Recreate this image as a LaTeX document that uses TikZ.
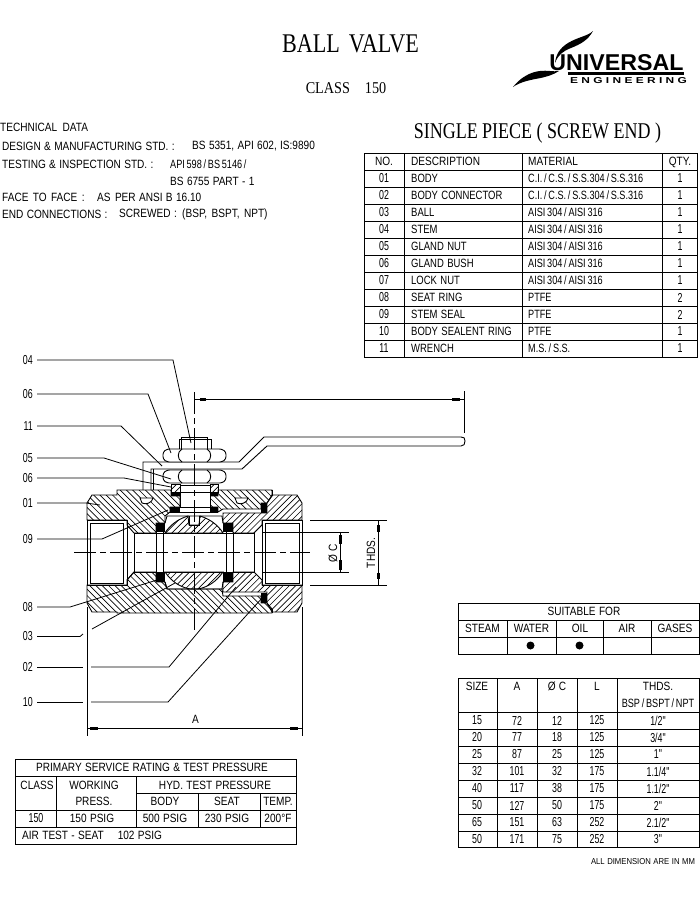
\documentclass[tikz,border=0pt]{standalone}
\usepackage{fontspec}
\usepackage{graphicx}
\setmainfont[FakeStretch=0.84,WordSpace=1.2]{Liberation Sans}
\newfontfamily\tbf[FakeStretch=0.79,WordSpace=1.3]{Liberation Sans}
\newfontfamily\mtf[FakeStretch=0.76,WordSpace=0.7]{Liberation Sans}
\newfontfamily\dgf[FakeStretch=0.68,WordSpace=1.6]{Liberation Sans}
\newfontfamily\serf[FakeStretch=0.82]{Liberation Serif}
\newfontfamily\serg[FakeStretch=0.86,WordSpace=2]{Liberation Serif}
\newfontfamily\serh[FakeStretch=0.8,WordSpace=1]{Liberation Serif}
\newfontfamily\logoa{Liberation Sans}
\newfontfamily\logob[LetterSpace=28]{Liberation Sans}
\newcommand{\hatchdown}[1]{\begin{scope}\clip #1;
  \foreach \k in {-60,-53.7,...,310} {\draw[hatchl] (\k,480) -- ++(150,150);}\end{scope}\draw[part] #1;}
\newcommand{\hatchup}[1]{\begin{scope}\clip #1;
  \foreach \k in {80,86.3,...,460} {\draw[hatchl] (\k,480) -- ++(-150,150);}\end{scope}\draw[part] #1;}
\newcommand{\nutshape}[2]{%
  \draw[part,fill=white,rounded corners=2.5pt] (167,#1) -- (163,#1+3) -- (163,#2-3) -- (167,#2) -- (222,#2) -- (226,#2-3) -- (226,#1+3) -- (222,#1) -- cycle;
  \draw[part] (182,#1) .. controls (177,#1+3) and (177,#2-3) .. (182,#2);
  \draw[part] (207,#1) .. controls (212,#1+3) and (212,#2-3) .. (207,#2);
}
\tikzset{
  every node/.style={inner sep=0pt,font=\fontsize{12}{14}\selectfont},
  dig/.style={font=\fontsize{13}{15}\dgf},
  desc/.style={anchor=west,font=\fontsize{12}{14}\tbf},
  matl/.style={anchor=west,font=\fontsize{12}{14}\mtf},
  part/.style={line width=0.9pt},
  hatchl/.style={line width=0.65pt},
  grid/.style={line width=1pt},
  leader/.style={line width=0.8pt},
  dimline/.style={line width=0.9pt},
  blob/.style={line width=3pt},
  centre/.style={line width=0.8pt,dash pattern=on 22pt off 4pt on 6pt off 4pt},
  lab/.style={anchor=east,inner xsep=4pt,font=\fontsize{13}{15}\dgf},
  lft/.style={anchor=west},
}
\begin{document}
\begin{tikzpicture}[x=1pt,y=-1pt]
\useasboundingbox (0,0) rectangle (700,900);
% ---- titles
\node[font=\fontsize{27}{30}\serf] (title) at (350.5,44) {BALL\hspace{9pt}VALVE};
\node[font=\fontsize{16.5}{18}\serg] (cls) at (346,88) {CLASS\hspace{15pt}150};
\node[font=\fontsize{22.5}{24}\serh] (single) at (537.5,133) {SINGLE PIECE ( SCREW END )};
% ---- logo
\fill (593,31) .. controls (588,36) and (578,37) .. (568,43) .. controls (560,48) and (556,54) .. (555,63) .. controls (558,55) and (563,51) .. (571,48) .. controls (581,44) and (588,40) .. (593,31) -- cycle;
\fill (513,87) .. controls (520,78) and (530,72) .. (540,71) .. controls (547,70) and (553,72) .. (559,71) .. controls (553,75) and (546,77) .. (538,78.5) .. controls (530,80) and (520,82) .. (513,87) -- cycle;
\node (logou) at (616.5,63) {\resizebox{134pt}{16pt}{\logoa\bfseries UNIVERSAL}};
\fill (568,72) rectangle (684,74.5);
\node (logoe) at (628.5,80.5) {\resizebox{117pt}{6pt}{\logob\bfseries ENGINEERING}};
% ---- technical data
\node[lft] (td0) at (0,127.5) {TECHNICAL\hspace{2pt} DATA};
\node[lft] (td1) at (2,146) {DESIGN \& MANUFACTURING STD. :};
\node[lft] (td1b) at (192,146) {BS 5351, API 602, IS:9890};
\node[lft] (td2) at (2,164) {TESTING \& INSPECTION STD. :};
\node[matl] (td2b) at (170,164) {API 598 / BS 5146 /};
\node[lft] (td3) at (170,181) {BS 6755 PART - 1};
\node[lft] (td4) at (2,197.5) {FACE\hspace{1pt} TO\hspace{1pt} FACE\hspace{1pt} :};
\node[lft] (td4b) at (97,197.5) {AS\hspace{1pt} PER ANSI B 16.10};
\node[lft] (td5) at (2,214) {END CONNECTIONS :};
\node[lft] (td5b) at (119,214) {SCREWED :\hspace{2pt} (BSP,\hspace{1pt} BSPT,\hspace{1pt} NPT)};
% ---- parts table
\draw[grid] (364,153) rectangle (697,357);
\foreach \y in {170,187,204,221,238,255,272,289,306,323,340} \draw[grid] (364,\y) -- (697,\y);
\foreach \x in {404,522,662} \draw[grid] (\x,153) -- (\x,357);
\node (phn) at (384,161.5) {NO.};
\node[lft] (phd) at (411,161.5) {DESCRIPTION};
\node[lft] (phm) at (528,161) {MATERIAL};
\node (phq) at (680,162) {QTY.};
\foreach \i/\n/\d/\m/\q in {
 1/01/BODY/{C.I. / C.S. / S.S.304 / S.S.316}/1,
 2/02/BODY CONNECTOR/{C.I. / C.S. / S.S.304 / S.S.316}/1,
 3/03/BALL/{AISI 304 / AISI 316}/1,
 4/04/STEM/{AISI 304 / AISI 316}/1,
 5/05/GLAND NUT/{AISI 304 / AISI 316}/1,
 6/06/GLAND BUSH/{AISI 304 / AISI 316}/1,
 7/07/LOCK NUT/{AISI 304 / AISI 316}/1,
 8/08/SEAT RING/PTFE/2,
 9/09/STEM SEAL/PTFE/2,
 10/10/BODY SEALENT RING/PTFE/1,
 11/11/WRENCH/{M.S. / S.S.}/1}{
  \pgfmathsetmacro{\yy}{161.5+17*\i}
  \node[dig,name=pn\i] at (384,\yy) {\n};
  \node[desc,name=pd\i] at (411,\yy) {\d};
  \node[matl,name=pm\i] at (528,\yy-0.5) {\m};
  \node[dig,name=pq\i] at (680,\yy) {\q};
}
% ---- suitable table
\draw[grid] (458,603) rectangle (699,654);
\draw[grid] (458,620) -- (699,620) (458,637) -- (699,637);
\foreach \x in {507,556.5,603,651} \draw[grid] (\x,620) -- (\x,654);
\node (sf) at (584,611.5) {SUITABLE FOR};
\node (s1) at (482.5,628.5) {STEAM};
\node (s2) at (531.5,628.5) {WATER};
\node (s3) at (580,628.5) {OIL};
\node (s4) at (627,628.5) {AIR};
\node (s5) at (675,628.5) {GASES};
\fill (530.5,645.5) circle (4);
\fill (579.5,645.5) circle (4);
% ---- size table
\draw[grid] (458,678) rectangle (699,847);
\foreach \y in {712,729,746,763,780,797,814,831} \draw[grid] (458,\y) -- (699,\y);
\foreach \x in {497,537,577,617} \draw[grid] (\x,678) -- (\x,847);
\node (z1) at (477,686.5) {SIZE};
\node (z2) at (517,686.5) {A};
\node (z3) at (557,686.5) {Ø C};
\node (z4) at (597,686.5) {L};
\node (z5) at (658,686.5) {THDS.};
\node[font=\fontsize{12}{14}\mtf] (z6) at (658,703) {BSP / BSPT / NPT};
\foreach \i/\a/\b/\c/\d/\e in {
 1/15/72/12/125/{1/2"},2/20/77/18/125/{3/4"},3/25/87/25/125/{1"},4/32/101/32/175/{1.1/4"},
 5/40/117/38/175/{1.1/2"},6/50/127/50/175/{2"},7/65/151/63/252/{2.1/2"},8/50/171/75/252/{3"}}{
  \pgfmathsetmacro{\yy}{703.5+17*\i}
  \node[dig,name=za\i] at (477,\yy) {\a};
  \node[dig,name=zb\i] at (517,\yy) {\b};
  \node[dig,name=zc\i] at (557,\yy) {\c};
  \node[dig,name=zd\i] at (597,\yy) {\d};
  \node[dig,name=ze\i] at (658,\yy) {\e};
}
\node (note) at (643,861.5) {\resizebox{104pt}{6pt}{ALL DIMENSION ARE IN MM}};
% ---- pressure table
\draw[grid] (15,759) rectangle (296,844);
\draw[grid] (15,776) -- (296,776) (136,793) -- (296,793) (15,810) -- (296,810) (15,827) -- (296,827);
\draw[grid] (56,776) -- (56,827) (136,776) -- (136,827) (198,793) -- (198,827) (260,793) -- (260,827);
\node (r0) at (152,767.5) {PRIMARY SERVICE RATING \& TEST PRESSURE};
\node (r1) at (37,785) {CLASS};
\node (r2) at (94,785) {WORKING};
\node (r3) at (94,801) {PRESS.};
\node (r4) at (215,785) {HYD. TEST PRESSURE};
\node (r5) at (165,801) {BODY};
\node (r6) at (227,801) {SEAT};
\node (r7) at (278,801) {TEMP.};
\node[dig] (r8) at (36,818) {150};
\node (r9) at (92,818) {150 PSIG};
\node (r10) at (165,818) {500 PSIG};
\node (r11) at (227,818) {230 PSIG};
\node (r12) at (278,818) {200°F};
\node[lft] (r13) at (22,835) {AIR TEST - SEAT\hspace{14pt}102 PSIG};
% ---- valve: wrench
\draw[part] (143,490) -- (143,462) -- (239,462) -- (264,437) -- (461,437) .. controls (464,437) and (465,438) .. (465,441) .. controls (465,444) and (464,446) .. (461,446) -- (267,446) -- (242,469) -- (151,469) -- (151,490);
\draw[part] (153,469) -- (153,490);
% nuts and stem top
\nutshape{449}{462}
\nutshape{470}{483}
\draw[part] (179,449) -- (179,439) -- (211,439) -- (211,449);
\draw[part] (181,449) -- (181,437) -- (207,437) -- (207,449);
% body hatch
\hatchdown{(87,503) -- (92,495) -- (117,495) -- (117,490) -- (171,490) -- (171,496) -- (180,496) -- (180,507) -- (170,507) -- (170,512) -- (165,516) -- (165,523) -- (156,523) -- (156,533) -- (134,533) -- (127,525) -- (127,520) -- (87,520) -- cycle}
\hatchdown{(218,490) -- (272,490) -- (272,496) -- (267,503) -- (261,503) -- (261,509) -- (223,509) -- (218,512) -- (218,507) -- (210,507) -- (210,496) -- (218,496) -- cycle}
\hatchup{(223,513) -- (267,513) -- (267,503) -- (272,495) -- (297,495) -- (302,503) -- (302,520) -- (262,520) -- (262,525) -- (254,533) -- (233,533) -- (233,523) -- (223,523) -- cycle}
\hatchdown{(87,585) -- (127,585) -- (127,580) -- (134,572) -- (156,572) -- (156,582) -- (165,582) -- (167,589) -- (222,589) -- (223,596) -- (261,596) -- (261,603) -- (267,603) -- (272,609) -- (272,613) -- (117,613) -- (117,612) -- (92,612) -- (87,603) -- cycle}
\hatchup{(223,582) -- (233,582) -- (233,572) -- (254,572) -- (262,580) -- (262,585) -- (302,585) -- (302,603) -- (297,612) -- (272,612) -- (267,603) -- (267,592) -- (223,592) -- cycle}
% ball
\hatchup{(165,533) .. controls (170,525) and (178,519) .. (188,516) -- (189,525) -- (199,525) -- (200,516) .. controls (210,519) and (218,525) .. (223,533) -- cycle}
\hatchup{(165,572) .. controls (172,582) and (180,587) .. (190,589) -- (198,589) .. controls (208,587) and (216,582) .. (223,572) -- cycle}
\draw[part] (165,523) -- (167,516) -- (222,516) -- (223,523);
\draw[part] (165,582) -- (167,589) -- (222,589) -- (223,582);
\draw[part] (189,516) -- (189,525) -- (199,525) -- (199,516);
% pockets
\draw[part,fill=white] (140,498) -- (153,498) .. controls (152,503) and (146,505) .. (142,503) -- cycle;
\draw[part,fill=white] (235,498) -- (248,498) .. controls (247,503) and (241,505) .. (237,503) -- cycle;
% stem and gland
\draw[part,fill=white] (180,485) rectangle (210,507);
\draw[part] (180,492) -- (210,492);
\draw[part] (170,512) -- (218,512);
\hatchup{(171,484) -- (180,484) -- (180,492) -- (171,492) -- cycle}
\hatchup{(210,484) -- (218,484) -- (218,492) -- (210,492) -- cycle}
\fill (171,492) rectangle (180,496);
\fill (210,492) rectangle (218,496);
\fill (170,507) rectangle (180,512);
\fill (210,507) rectangle (218,512);
% seats
\fill (156,523) rectangle (165,532);
\fill (156,573) rectangle (165,582);
\fill (223,523) rectangle (233,532);
\fill (223,573) rectangle (233,582);
\draw[part] (156,532) -- (156,573) (163,532) -- (163,573) (226,532) -- (226,573) (233,532) -- (233,573);
% bore
\draw[part] (134,533) -- (254,533) (134,572) -- (254,572) (134,533) -- (134,572) (254,533) -- (254,572);
\draw[part] (134,572) -- (127,580);
% seals of the connector
\fill (261,503) rectangle (267,513);
\fill (261,593) rectangle (267,603);
\draw[part] (272,490) -- (272,495) (272,609) -- (272,613);
% ports
\draw[part] (87,520) rectangle (127,585);
\draw[part] (90,523) rectangle (123,583);
\draw[part] (262,520) rectangle (302,585);
\draw[part] (265,523) rectangle (299,583);
% centre lines
\draw[centre] (74,552.7) -- (310,552.7);
\draw[centre] (194,392) -- (194,630);
% ---- dimensions
\coordinate (a1) at (87,607); \coordinate (a2) at (87,736);
\coordinate (b1) at (302,607); \coordinate (b2) at (302,736);
\draw[dimline] (a1) -- (a2) (b1) -- (b2);
\coordinate (ad1) at (87,728); \coordinate (ad2) at (302,728);
\draw[dimline] (ad1) -- (ad2);
\draw[blob] (90,728) -- (98,728);
\draw[blob] (290,728) -- (298,728);
\node[font=\fontsize{12}{14}\selectfont] (dimA) at (195.5,719) {A};
\coordinate (l1) at (194,399); \coordinate (l2) at (464,399);
\draw[dimline] (l1) -- (l2);
\draw[dimline] (464,391) -- (464,433);
\draw[blob] (452,399) -- (460,399);
\draw[blob] (200,399) -- (206,399);
% right dimensions
\draw[dimline] (310,520.5) -- (387,520.5) (310,585) -- (387,585);
\draw[dimline] (262,532.5) -- (349,532.5) (262,572) -- (349,572);
\draw[dimline] (378,520.5) -- (378,585);
\draw[dimline] (340.7,532.5) -- (340.7,572);
\draw[blob] (378,525) -- (378,532);
\draw[blob] (378,573) -- (378,579);
\draw[blob] (340.7,535) -- (340.7,544);
\draw[blob] (340.7,560) -- (340.7,570);
\node[rotate=90] (thds) at (371,553) {THDS.};
\node[rotate=90] (phic) at (333,553) {Ø C};
% ---- labels and leaders
\node[lab] (L04) at (37,360) {04};
\node[lab] (L06a) at (37,394) {06};
\node[lab] (L11) at (37,426) {11};
\node[lab] (L05) at (37,458) {05};
\node[lab] (L06b) at (37,478) {06};
\node[lab] (L01) at (37,503) {01};
\node[lab] (L09) at (37,539) {09};
\node[lab] (L08) at (37,607) {08};
\node[lab] (L03) at (37,636.5) {03};
\node[lab] (L02) at (37,667) {02};
\node[lab] (L10) at (37,702) {10};
\draw[leader] (L04.east) -- (173,360) -- (191,443);
\draw[leader] (L06a.east) -- (148,394) -- (171,453);
\draw[leader] (L11.east) -- (121,426) -- (162,466);
\draw[leader] (L05.east) -- (104,458) -- (171,479);
\draw[leader] (L06b.east) -- (124,478) -- (171,487);
\draw[leader] (L01.east) -- (86,503) -- (100,505);
\draw[leader] (L09.east) -- (102,539) -- (168,510);
\draw[leader] (L08.east) -- (70,607) -- (157,580);
\draw[leader] (L03.east) -- (80,636.5) -- (83,634);
\draw[leader] (92,629) -- (175,583);
\draw[leader] (L02.east) -- (83,667);
\draw[leader] (91,667) -- (169,667) -- (236,587);
\draw[leader] (L10.east) -- (83,702);
\draw[leader] (91,702) -- (168,702) -- (263,597);
\end{tikzpicture}
\end{document}
